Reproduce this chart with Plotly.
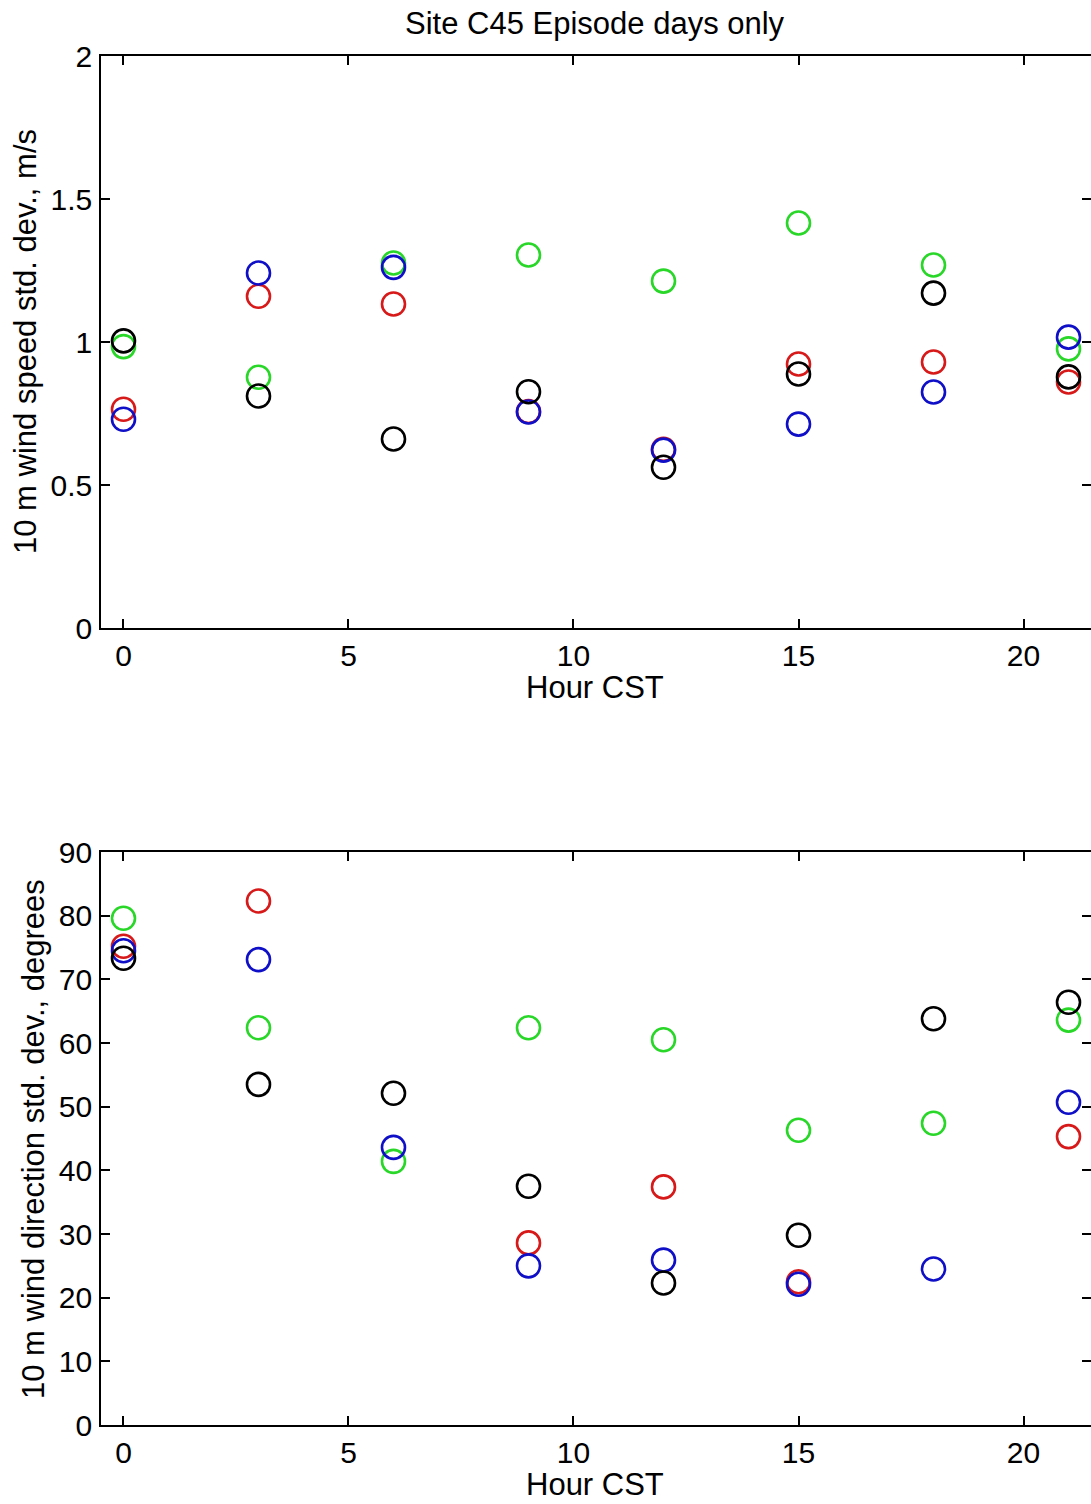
import plotly.graph_objects as go
from plotly.subplots import make_subplots

hours = [0, 3, 6, 9, 12, 15, 18, 21]

# 10 m wind speed std. dev. (m/s)
red_speed = [0.765, 1.16, 1.133, 0.757, 0.625, 0.923, 0.93, 0.86]
green_speed = [0.984, 0.877, 1.276, 1.304, 1.213, 1.416, 1.269, 0.976]
blue_speed = [0.730, 1.241, 1.261, 0.755, 0.622, 0.713, 0.825, 1.017]
black_speed = [1.004, 0.811, 0.661, 0.826, 0.562, 0.888, 1.171, 0.878]

# 10 m wind direction std. dev. (degrees)
red_dir = [75.2, 82.3, None, 28.6, 37.4, 22.5, None, 45.3]
green_dir = [79.6, 62.4, 41.4, 62.4, 60.5, 46.3, 47.4, 63.6]
blue_dir = [74.5, 73.1, 43.6, 25.0, 25.9, 22.1, 24.5, 50.7]
black_dir = [73.3, 53.5, 52.1, 37.5, 22.3, 29.8, 63.8, 66.4]

x_ticks = [0, 5, 10, 15, 20]
speed_ticks = [0, 0.5, 1, 1.5, 2]
speed_labels = ["0", "0.5", "1", "1.5", "2"]
dir_ticks = [0, 10, 20, 30, 40, 50, 60, 70, 80, 90]

title_text = "Site C45 Episode days only"
xlabel = "Hour CST"
ylabel_top = "10 m wind speed std. dev., m/s"
ylabel_bot = "10 m wind direction std. dev., degrees"

colors = {
    "red": "rgb(215,25,25)",
    "green": "rgb(40,215,40)",
    "blue": "rgb(15,15,200)",
    "black": "rgb(0,0,0)",
}

FONT = "Liberation Sans, Arial, sans-serif"
W, H = 1091, 1504

fig = make_subplots(rows=2, cols=1)

speed_series = [("red", red_speed), ("green", green_speed), ("blue", blue_speed), ("black", black_speed)]
dir_series = [("red", red_dir), ("green", green_dir), ("blue", blue_dir), ("black", black_dir)]

for row, series in ((1, speed_series), (2, dir_series)):
    for name, vals in series:
        fig.add_trace(go.Scatter(x=hours, y=vals, mode="markers",
                                 marker=dict(symbol="circle-open", size=23,
                                             line=dict(width=2.6, color=colors[name]),
                                             color=colors[name]),
                                 showlegend=False, name=name), row=row, col=1)

axis_common = dict(showline=True, linecolor="black", linewidth=1.5, mirror="ticks",
                   ticks="inside", ticklen=9, tickwidth=1.5, tickcolor="black",
                   showgrid=False, zeroline=False, automargin=False,
                   tickfont=dict(family=FONT, size=30, color="black"))

top_dom = [1 - 628 / H, 1 - 56 / H]
bot_dom = [1 - 1425 / H, 1 - 852 / H]

fig.update_xaxes(range=[-0.5, 21.5], tickvals=x_ticks, ticklabelstandoff=0, **axis_common)
fig.update_yaxes(**axis_common)
fig.update_yaxes(range=[0, 2], tickvals=speed_ticks, ticktext=speed_labels,
                 domain=top_dom, ticklabelstandoff=1, row=1, col=1)
fig.update_yaxes(range=[0, 90], tickvals=dir_ticks, domain=bot_dom,
                 ticklabelstandoff=1, row=2, col=1)
fig.update_xaxes(domain=[0.001, 1])

ann_font = dict(family=FONT, size=31, color="black")
pw = W - 100
annotations = [
    dict(text=title_text, x=(595 - 100) / pw, y=1 - 23 / H, xref="paper", yref="paper",
         xanchor="center", yanchor="middle", showarrow=False, font=ann_font),
    dict(text=xlabel, x=(595 - 100) / pw, y=1 - 688 / H, xref="paper", yref="paper",
         xanchor="center", yanchor="middle", showarrow=False, font=ann_font),
    dict(text=xlabel, x=(595 - 100) / pw, y=1 - 1484 / H, xref="paper", yref="paper",
         xanchor="center", yanchor="middle", showarrow=False, font=ann_font),
    dict(text=ylabel_top, x=(25 - 100) / pw, y=1 - 342 / H, xref="paper", yref="paper",
         xanchor="center", yanchor="middle", textangle=-90, showarrow=False, font=ann_font),
    dict(text=ylabel_bot, x=(33 - 100) / pw, y=1 - 1139 / H, xref="paper", yref="paper",
         xanchor="center", yanchor="middle", textangle=-90, showarrow=False, font=ann_font),
]

fig.update_layout(width=W, height=H, margin=dict(l=100, r=0, t=0, b=0, autoexpand=False),
                  paper_bgcolor="white", plot_bgcolor="white",
                  annotations=annotations, font=dict(family=FONT, color="black"))

fig.write_html("out.html", config={"displayModeBar": False},
               post_script="document.body.style.margin='0px';document.body.style.overflow='hidden';")
